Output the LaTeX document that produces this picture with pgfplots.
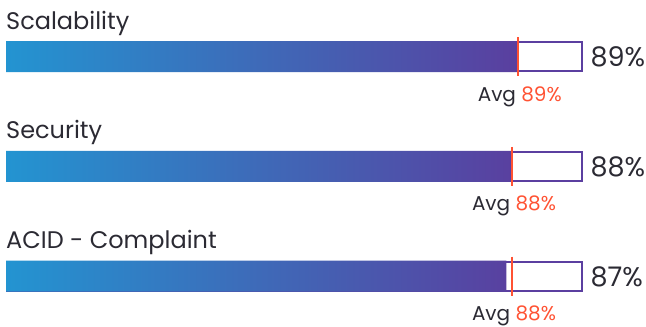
\documentclass[border=0pt]{standalone}
\usepackage{pgfplots}
\pgfplotsset{compat=1.18}
\usepackage{fontspec}
\setmainfont{Poppins}

\definecolor{barA}{HTML}{2394D1}
\definecolor{barB}{HTML}{5A3F9F}
\definecolor{track}{HTML}{5B3FA0}
\definecolor{avgc}{HTML}{FF5233}
\definecolor{txt}{HTML}{2B2A33}

% y: 0 = Scalability, 1 = Security, 2 = ACID - Complaint
\pgfplotstableread{
y val avg full
0 89 89 100
1 88 88 100
2 87 88 100
}\scores

\begin{document}
\begin{tikzpicture}
\begin{axis}[
    scale only axis,
    width=575pt, height=329.25pt,
    xmin=0, xmax=100,
    ymin=-0.5, ymax=2.5,
    y dir=reverse,
    axis lines=none,
    clip=false,
    /pgf/number format/assume math mode=true,
]
% empty track out to 100 %, with the score printed at its end
\addplot[xbar, bar shift=0pt, bar width=29pt, fill=white, draw=track, line width=2pt,
    xshift=1pt,
    point meta=explicit,
    nodes near coords={\pgfmathprintnumber{\pgfplotspointmeta}\%},
    nodes near coords style={anchor=base west, inner sep=0pt, xshift=7.5pt, yshift=-10pt,
        font=\fontsize{27}{32}\selectfont, text=txt}]
    table[x=full, y=y, meta=val] {\scores};
% score bars with the blue to purple shading
\addplot[xbar, bar shift=0pt, bar width=31pt, draw=none, left color=barA, right color=barB]
    table[x=val, y=y] {\scores};
% average markers
\addplot[only marks, mark=|, mark size=19.5pt, line width=2pt, color=avgc,
    point meta=explicit,
    nodes near coords={\textcolor{txt}{Avg} \textcolor{avgc}{\pgfmathprintnumber{\pgfplotspointmeta}\%}},
    nodes near coords style={anchor=base, inner sep=0pt, xshift=2pt, yshift=-44.5pt,
        font=\fontsize{20}{24}\selectfont}]
    table[x=avg, y=y, meta=avg] {\scores};

\node[anchor=base west, inner sep=0pt, yshift=27.5pt, text=txt, font=\fontsize{24}{29}\selectfont]
    at (axis cs:0,0) {Scalability};
\node[anchor=base west, inner sep=0pt, yshift=27.5pt, text=txt, font=\fontsize{24}{29}\selectfont]
    at (axis cs:0,1) {Security};
\node[anchor=base west, inner sep=0pt, yshift=27.5pt, text=txt, font=\fontsize{24}{29}\selectfont]
    at (axis cs:0,2) {ACID - Complaint};
\coordinate (o) at (axis cs:0,0);
\end{axis}
\pgfresetboundingbox
\path[use as bounding box] ([shift={(-6pt,56.5pt)}]o) rectangle ([shift={(640pt,-270.5pt)}]o);
\end{tikzpicture}
\end{document}
